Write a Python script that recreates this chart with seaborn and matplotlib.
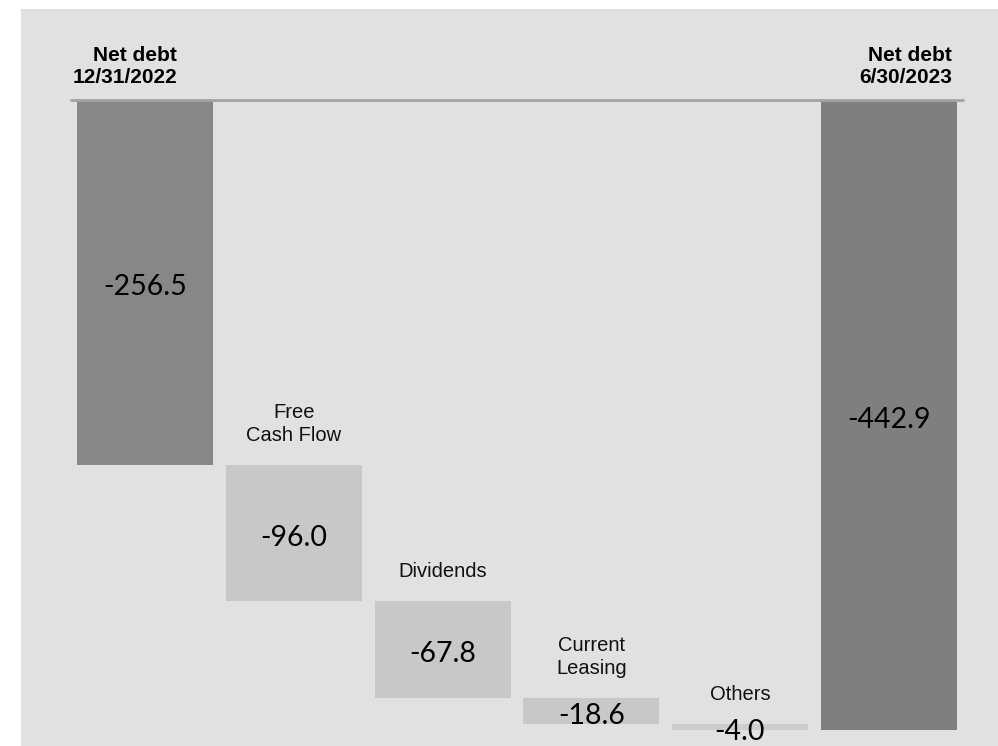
import numpy as np
import pandas as pd
import matplotlib
matplotlib.use("Agg")
import matplotlib.pyplot as plt
import seaborn as sns
from matplotlib.patches import Rectangle

# ---- data ----
categories = ["Net debt\n12/31/2022", "Free\nCash Flow", "Dividends",
              "Current\nLeasing", "Others", "Net debt\n6/30/2023"]
values = [-256.5, -96.0, -67.8, -18.6, -4.0, -442.9]
value_labels = ["-256.5", "-96.0", "-67.8", "-18.6", "-4.0", "-442.9"]
is_total = [True, False, False, False, False, True]

# waterfall geometry derived from the values
bottoms = []
running = 0.0
for v, tot in zip(values, is_total):
    if tot:
        bottoms.append(0.0)
        running = v
    else:
        bottoms.append(running)
        running += v
df = pd.DataFrame({"cat": categories, "val": values, "bottom": bottoms})

colors = ["#878787", "#c8c8c8", "#c8c8c8", "#c8c8c8", "#cdcdcd", "#7f7f7f"]

sns.set_theme(style="white")
plt.rcParams["font.family"] = ["Liberation Sans", "DejaVu Sans"]

fig = plt.figure(figsize=(9.98, 7.46), dpi=100)
fig.patch.set_facecolor("white")
fig.patches.append(Rectangle((21 / 998, 0), 1 - 21 / 998, (746 - 9) / 746,
                             transform=fig.transFigure, facecolor="#e1e1e1",
                             edgecolor="none", zorder=-10))

ax = fig.add_axes([71 / 998, 0, 892 / 998, 646 / 746])
ax.set_facecolor("none")

sns.barplot(data=df, x="cat", y="val", bottom=df["bottom"].values,
            order=categories, width=0.915, color="#c8c8c8", ax=ax,
            errorbar=None, linewidth=0, zorder=2)
for p, c in zip(ax.patches, colors):
    p.set_facecolor(c)
    p.set_edgecolor("none")

ax.set_xlim(-0.5, 5.5)
ax.set_ylim(-454.1, 0)
ax.axhline(0, color="#a3a3a3", lw=2, zorder=3, clip_on=False)
for s in ax.spines.values():
    s.set_visible(False)
ax.set_xticks([])
ax.set_yticks([])
ax.set_xlabel("")
ax.set_ylabel("")

# value labels in bar centres
for i, (v, b, lab) in enumerate(zip(values, bottoms, value_labels)):
    ax.annotate(lab, xy=(i, b + v / 2), xytext=(0, -1.5),
                textcoords="offset points", ha="center",
                va="center_baseline", fontsize=20.5,
                family=["Lato", "DejaVu Sans"], color="#000000",
                zorder=4, annotation_clip=False)

# category labels above the step bars
for i, (cat, b, tot) in enumerate(zip(categories, bottoms, is_total)):
    if tot:
        continue
    ax.annotate(cat, xy=(i, b), xytext=(0, 14.5), textcoords="offset points",
                ha="center", va="bottom", fontsize=14.5, color="#111111",
                linespacing=1.25, annotation_clip=False)

# totals headers above the axis
header_offsets = {0: 23, 5: 45.5}
for i, dx in header_offsets.items():
    ax.annotate(categories[i], xy=(i, 0), xytext=(dx, 9.5),
                textcoords="offset points", ha="right", va="bottom",
                fontsize=15, fontweight="bold", color="#000000",
                linespacing=1.2, multialignment="right",
                annotation_clip=False)

fig.savefig("out.png", dpi=100)
